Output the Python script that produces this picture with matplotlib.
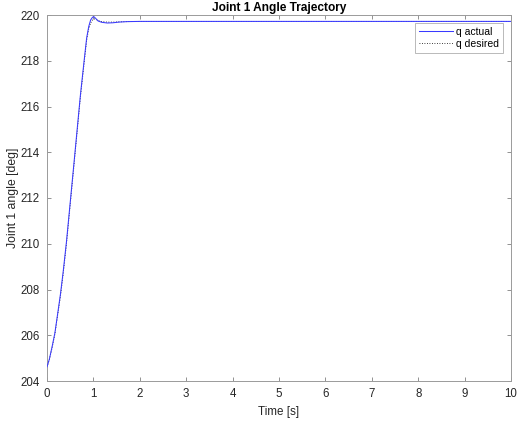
import matplotlib
matplotlib.use("Agg")
import matplotlib.pyplot as plt

# --- data ---
t_actual = [0, 0.05, 0.11, 0.17, 0.22, 0.29, 0.35, 0.42, 0.50, 0.58, 0.65, 0.72,
            0.80, 0.855, 0.90, 0.94, 0.98, 1.01, 1.05, 1.10, 1.18, 1.30, 1.42,
            1.55, 1.72, 2.0, 2.5, 3.0, 10.0]
q_actual = [204.62, 204.95, 205.5, 206.1, 206.8, 207.8, 208.8, 210.1, 211.8, 213.5,
            215.0, 216.5, 218.0, 219.0, 219.5, 219.78, 219.9, 219.93, 219.85,
            219.74, 219.68, 219.65, 219.66, 219.69, 219.71, 219.72, 219.72, 219.72, 219.72]

t_desired = [0, 0.05, 0.11, 0.17, 0.22, 0.29, 0.35, 0.42, 0.50, 0.58, 0.65, 0.72,
             0.80, 0.855, 0.90, 0.94, 0.98, 1.01, 1.05, 1.10, 1.18, 1.30, 1.42,
             1.55, 1.72, 2.0, 2.5, 3.0, 10.0]
q_desired = [204.62, 204.93, 205.45, 206.05, 206.75, 207.7, 208.7, 210.0, 211.7, 213.4,
             214.9, 216.4, 217.9, 218.9, 219.4, 219.65, 219.78, 219.83, 219.82,
             219.76, 219.71, 219.69, 219.69, 219.70, 219.71, 219.72, 219.72, 219.72, 219.72]

x_ticks = list(range(0, 11))
y_ticks = list(range(204, 221, 2))

plt.rcParams['font.family'] = ['Liberation Sans', 'DejaVu Sans']

fig = plt.figure(figsize=(5.17, 4.22), dpi=100)
ax = fig.add_axes([47/517, 1 - 381/422, (511-47)/517, (381-15)/422])

ax.plot(t_desired, q_desired, color='black', lw=0.6, linestyle=(0, (1, 2)),
        label='q desired', zorder=2)
ax.plot(t_actual, q_actual, color='#3a3aff', lw=0.75, label='q actual', zorder=3)

ax.set_xlim(0, 10)
ax.set_ylim(204, 220)
ax.set_xticks(x_ticks)
ax.set_yticks(y_ticks)
ax.tick_params(direction='in', top=True, right=True, labelsize=8.3, length=3,
               color='#808080', labelcolor='#262626', width=0.6, pad=5)
for s in ax.spines.values():
    s.set_color('#9a9a9a')
    s.set_linewidth(0.7)

ax.set_xlabel('Time [s]', fontsize=8.4, color='#262626', labelpad=4)
ax.set_ylabel('Joint 1 angle [deg]', fontsize=8.8, color='#262626', labelpad=1)
ax.set_title('Joint 1 Angle Trajectory', fontsize=8.6, fontweight='bold', pad=3)

handles, labels = ax.get_legend_handles_labels()
order = [1, 0]
leg = ax.legend([handles[i] for i in order], [labels[i] for i in order],
                loc='upper right', fontsize=7.5, frameon=True, fancybox=False,
                edgecolor='#9a9a9a', handlelength=3.3, borderaxespad=0.8,
                handletextpad=0.3, borderpad=0.35, labelspacing=0.2)
leg.get_frame().set_linewidth(0.6)

fig.savefig('out.png', dpi=100)
